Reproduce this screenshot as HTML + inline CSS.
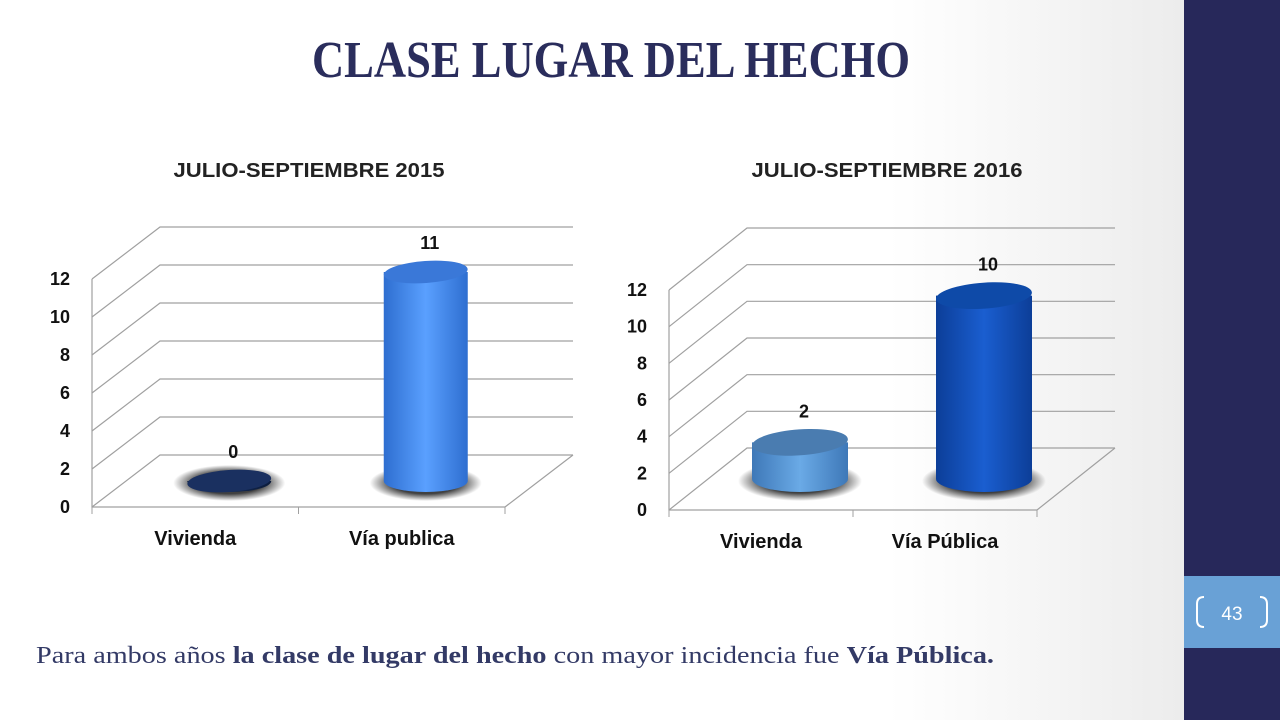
<!DOCTYPE html>
<html><head><meta charset="utf-8"><style>
html,body{margin:0;padding:0;width:1280px;height:720px;overflow:hidden;background:#fff}
svg{display:block}
</style></head><body>
<svg id="slide" width="1280" height="720" viewBox="0 0 1280 720" font-family="'Liberation Sans', sans-serif">
<defs>
<linearGradient id="bg" x1="0" x2="1" y1="0" y2="0"><stop offset="0.75" stop-color="#fff"/><stop offset="1" stop-color="#ececec"/></linearGradient>
<radialGradient id="shadow"><stop offset="0.6" stop-color="#000" stop-opacity="0.75"/><stop offset="1" stop-color="#000" stop-opacity="0"/></radialGradient>
</defs>
<rect width="1184" height="720" fill="url(#bg)"/>
<rect x="1184" y="0" width="96" height="720" fill="#27285a"/>
<rect x="1184" y="576" width="96" height="72" fill="#69a1d6"/>
<path d="M1204 597 q-7 0 -7 7 v16 q0 7 7 7 M1260 597 q7 0 7 7 v16 q0 7 -7 7" fill="none" stroke="#fff" stroke-width="2"/>
<text x="1232" y="620" text-anchor="middle" font-size="19" fill="#fff">43</text>
<text x="611" y="77" text-anchor="middle" font-family="'Liberation Serif', serif" font-weight="bold" font-size="52" textLength="598" lengthAdjust="spacingAndGlyphs" fill="#2a2d5c">CLASE LUGAR DEL HECHO</text>
<text x="36" y="663" font-family="'Liberation Serif', serif" font-size="24" textLength="958" lengthAdjust="spacingAndGlyphs" fill="#333a66">Para ambos años <tspan font-weight="bold">la clase de lugar del hecho</tspan> con mayor incidencia fue <tspan font-weight="bold">Vía Pública.</tspan></text>
<g id="c1"></g>
<g id="c2"></g>
</svg>
<script>
const categories2015 = ["Vivienda", "Vía publica"];
const values2015 = [0, 11];
const categories2016 = ["Vivienda", "Vía Pública"];
const values2016 = [2, 10];
const ticks = [0, 2, 4, 6, 8, 10, 12];
const NS = "http://www.w3.org/2000/svg";
function mk(parent, tag, attrs){const e=document.createElementNS(NS,tag);for(const k in attrs)e.setAttribute(k,attrs[k]);parent.appendChild(e);return e;}
function drawChart(g, cfg, cats, vals, colors, title){
  const y = v => cfg.y0 - v * (cfg.y0 - cfg.y12) / 12;
  let t = mk(g,'text',{x:cfg.titleX,y:177,'text-anchor':'middle','font-size':20,'font-weight':'bold',fill:'#222',textLength:271,lengthAdjust:'spacingAndGlyphs'});
  
  
  t.textContent = title;
  ticks.forEach(v=>{
    const yy=y(v);
    let l=mk(g,'path',{d:`M${cfg.x0} ${yy} L${cfg.x0+cfg.dx} ${yy+cfg.dy} L${cfg.xr+cfg.dx} ${yy+cfg.dy}`,fill:'none',stroke:'#a0a0a0','stroke-width':1.2});
    
    
    let lb=mk(g,'text',{x:cfg.x0-22,y:yy+6,'text-anchor':'end','font-size':18,'font-weight':'bold',fill:'#111'});
    
    
    lb.textContent=v;
  });
  let ax=mk(g,'path',{d:`M${cfg.x0} ${y(12)} V${cfg.y0} H${cfg.xr} L${cfg.xr+cfg.dx} ${cfg.y0+cfg.dy}`,fill:'none',stroke:'#a0a0a0','stroke-width':1.2});
  
  
  const bw=(cfg.xr-cfg.x0)/cats.length;
  for(let i=0;i<=cats.length;i++){
    let tk=mk(g,'line',{x1:cfg.x0+i*bw,x2:cfg.x0+i*bw,y1:cfg.y0,y2:cfg.y0+7,stroke:'#a0a0a0'});
    
    
  }
  cats.forEach((c,i)=>{
    const cx=cfg.x0+(i+0.5)*bw+cfg.dx/2-cfg.shift*i, zy=cfg.y0+cfg.dy/2, ty=y(vals[i])+cfg.dy/2, rx=cfg.rx, ry=cfg.ry;
    let sh=mk(g,'ellipse',{cx:cx,cy:zy+2,rx:rx+14,ry:ry+7,fill:'url(#shadow)'});
    
    
    const gid='gr'+cfg.id+i;
    const lg=mk(g,'linearGradient',{id:gid,x1:0,x2:1,y1:0,y2:0});
    mk(lg,'stop',{offset:0,'stop-color':colors[i][1]});
    mk(lg,'stop',{offset:0.5,'stop-color':colors[i][0]});
    mk(lg,'stop',{offset:1,'stop-color':colors[i][1]});
    let b=mk(g,'path',{d:`M${cx-rx} ${ty} V${zy} A${rx} ${ry} 0 0 0 ${cx+rx} ${zy} V${ty} Z`,fill:`url(#${gid})`});
    
    
    let top=mk(g,'ellipse',{cx:cx,cy:ty,rx:rx,ry:ry,fill:colors[i][2],transform:`rotate(-4 ${cx} ${ty})`});
    
    
    let vl=mk(g,'text',{x:cx+4,y:ty-ry-12,'text-anchor':'middle','font-size':18,'font-weight':'bold',fill:'#111'});
    
    
    vl.textContent=vals[i];
    let cl=mk(g,'text',{x:cfg.x0+(i+0.5)*bw,y:cfg.y0+38,'text-anchor':'middle','font-size':20,'font-weight':'bold',fill:'#111'});
    
    
    cl.textContent=c;
  });
}
drawChart(document.getElementById('c1'),{id:1,x0:92,xr:505,y0:507,y12:279,dx:68,dy:-52,rx:42,ry:11,titleX:309,shift:10},
  categories2015,values2015,[["#142a52","#0c1c3c","#1a3060"],["#5aa0ff","#2e6ed0","#3a78d8"]],"JULIO-SEPTIEMBRE 2015");
drawChart(document.getElementById('c2'),{id:2,x0:669,xr:1037,y0:510,y12:290,dx:78,dy:-62,rx:48,ry:13,titleX:887,shift:0},
  categories2016,values2016,[["#6aaae6","#3e78b8","#4a7cb0"],["#1a5ed0","#0c3e98","#0e4aa8"]],"JULIO-SEPTIEMBRE 2016");
</script>
</body></html>
